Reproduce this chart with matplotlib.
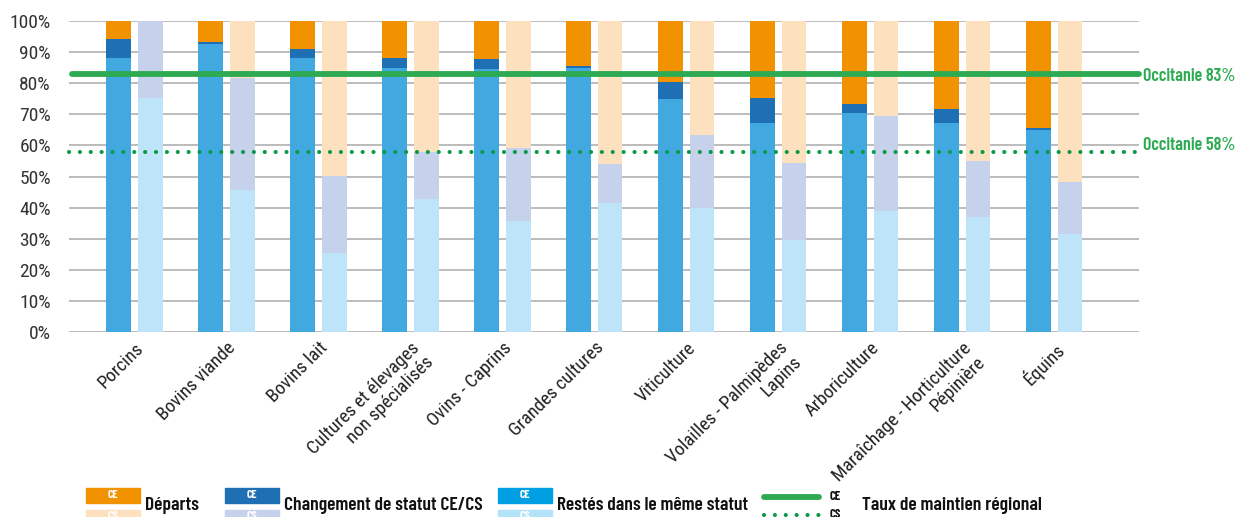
import matplotlib
matplotlib.use("Agg")
import matplotlib.pyplot as plt
import matplotlib.transforms as mtransforms
import numpy as np
from matplotlib.patches import Rectangle
from matplotlib.lines import Line2D

# categories (x axis)
categories = ["Porcins", "Bovins viande", "Bovins lait",
              "Cultures et élevages\nnon spécialisés", "Ovins - Caprins",
              "Grandes cultures", "Viticulture", "Volailles - Palmipèdes\nLapins",
              "Arboriculture", "Maraîchage - Horticulture\nPépinière", "Équins"]

# CE : chefs d'exploitation (%)
ce_restes = [88.1, 92.5, 88.1, 84.9, 84.5, 85.0, 74.9, 67.2, 70.4, 67.2, 64.9]
ce_changement = [6.1, 0.7, 2.8, 3.2, 3.2, 0.6, 5.6, 8.0, 2.9, 4.6, 0.7]
ce_departs = [5.8, 6.8, 9.1, 11.9, 12.3, 14.4, 19.5, 24.8, 26.7, 28.2, 34.4]

# CS : conjoints / cotisants solidaires (%)
cs_restes = [75.3, 45.7, 25.3, 42.8, 35.7, 41.4, 40.0, 29.6, 38.9, 37.0, 31.4]
cs_changement = [24.7, 36.1, 25.0, 15.0, 23.6, 12.6, 23.4, 24.8, 30.7, 17.9, 16.9]
cs_departs = [0.0, 18.2, 49.7, 42.2, 40.7, 46.0, 36.6, 45.6, 30.4, 45.1, 51.7]

# taux de maintien régional
taux_ce = 83
taux_cs = 58

ORANGE, PEACH = '#F39200', '#FDE0BE'
DBLUE, LAVENDER = '#1F6FB5', '#C6D1EB'
BLUE, LBLUE = '#42A8E0', '#BDE4F8'
GREEN, GREEN_DOT = '#2EAA52', '#0A9A48'

NARROW = ['Roboto Condensed', 'DejaVu Sans']
BOLDC = ['Barlow Condensed', 'DejaVu Sans']

W, H = 1235, 517
fig = plt.figure(figsize=(W / 100, H / 100), dpi=100)
ax = fig.add_axes([69 / W, 1 - 332 / H, 1070 / W, 311 / H])

x = np.arange(len(categories))
bw = 0.27
off = 0.17

ce_r = np.array(ce_restes)
ce_c = np.array(ce_changement)
cs_r = np.array(cs_restes)
cs_c = np.array(cs_changement)

ax.bar(x - off, ce_r, bw, color=BLUE, zorder=3)
ax.bar(x - off, ce_c, bw, bottom=ce_r, color=DBLUE, zorder=3)
ax.bar(x - off, ce_departs, bw, bottom=ce_r + ce_c, color=ORANGE, zorder=3)

ax.bar(x + off, cs_r, bw, color=LBLUE, zorder=3)
ax.bar(x + off, cs_c, bw, bottom=cs_r, color=LAVENDER, zorder=3)
ax.bar(x + off, cs_departs, bw, bottom=cs_r + cs_c, color=PEACH, zorder=3)

# regional lines
ax.axhline(taux_ce, xmin=0.003, xmax=1.0, color=GREEN, lw=4.2,
           solid_capstyle='round', zorder=5, clip_on=False)
ax.axhline(taux_cs, xmin=0.0, xmax=1.0, color=GREEN_DOT, lw=3,
           linestyle=(0, (0.01, 2.6)), dash_capstyle='round', zorder=5, clip_on=False)

trans = ax.get_yaxis_transform()
ax.text(1.004, taux_ce - 0.8, "Occitanie %d%%" % taux_ce, transform=trans, color=GREEN,
        family=BOLDC, fontweight=600, fontsize=13, va='center', ha='left')
ax.text(1.004, taux_cs + 2, "Occitanie %d%%" % taux_cs, transform=trans, color=GREEN,
        family=BOLDC, fontweight=600, fontsize=13, va='center', ha='left')

ax.set_xlim(-0.712, 10.92)
ax.set_ylim(0, 100)
ax.set_yticks(range(0, 101, 10))
ax.set_yticklabels(["%d%%" % v for v in range(0, 101, 10)], family=NARROW,
                   fontsize=14, color='#333333')
ax.set_xticks(x)
ax.set_xticklabels(categories, family=NARROW, fontsize=13.5, color='#222222',
                   linespacing=1.1)
shift = mtransforms.ScaledTranslation(-10 / 100, 0, fig.dpi_scale_trans)
for lab in ax.get_xticklabels():
    lab.set_rotation(45)
    lab.set_ha('right')
    lab.set_rotation_mode('anchor')
    lab.set_transform(lab.get_transform() + shift)
ax.tick_params(axis='both', length=0)
ax.tick_params(axis='y', pad=13)
ax.tick_params(axis='x', pad=5)
for s in ax.spines.values():
    s.set_visible(False)
ax.yaxis.grid(True, color='#AAAAAA', lw=1.1)
ax.set_axisbelow(True)

# legend, built by hand
def fx(px):
    return px / W

def fy(py):
    return 1 - py / H

def legend_box(x0, top_col, bot_col, label):
    fig.patches.append(Rectangle((fx(x0), fy(503)), fx(54), 15 / H, color=top_col,
                                 transform=fig.transFigure, figure=fig))
    fig.patches.append(Rectangle((fx(x0), fy(525)), fx(54), 15 / H, color=bot_col,
                                 transform=fig.transFigure, figure=fig))
    fig.text(fx(x0 + 27), fy(495.5), "CE", color='white', family=BOLDC, fontweight='bold',
             fontsize=8.5, ha='center', va='center')
    fig.text(fx(x0 + 27), fy(516), "CS", color='white', family=BOLDC, fontweight='bold',
             fontsize=8.5, ha='center', va='center')
    fig.text(fx(x0 + 59), fy(505), label, color='#111111', family=BOLDC, fontweight=600,
             fontsize=14, ha='left', va='center')

legend_box(86, ORANGE, PEACH, "Départs")
legend_box(225, DBLUE, LAVENDER, "Changement de statut CE/CS")
legend_box(498, '#009FE3', '#B3E3F8', "Restés dans le même statut")

fig.lines.append(Line2D([fx(764), fx(819)], [fy(497), fy(497)], color=GREEN, lw=4.2,
                        solid_capstyle='round', transform=fig.transFigure, figure=fig))
fig.lines.append(Line2D([fx(764), fx(821)], [fy(515), fy(515)], color=GREEN_DOT, lw=3,
                        linestyle=(0, (0.01, 2.6)), dash_capstyle='round',
                        transform=fig.transFigure, figure=fig))
fig.text(fx(830), fy(496), "CE", color='#111111', family=BOLDC, fontweight='bold',
         fontsize=9, ha='left', va='center')
fig.text(fx(830), fy(514), "CS", color='#111111', family=BOLDC, fontweight='bold',
         fontsize=9, ha='left', va='center')
fig.text(fx(862), fy(505), "Taux de maintien régional", color='#111111', family=BOLDC,
         fontweight=600, fontsize=14, ha='left', va='center')

fig.savefig("out.png", dpi=100)
